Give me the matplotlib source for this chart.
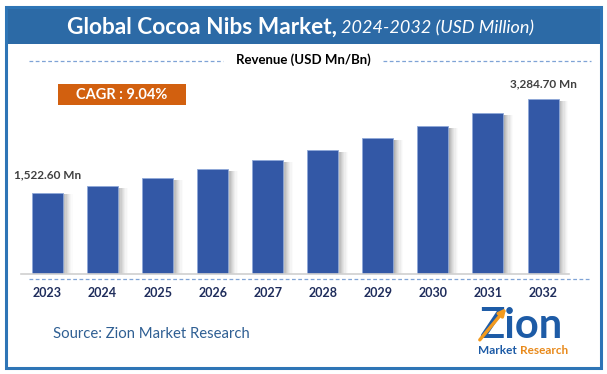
import numpy as np
import matplotlib.pyplot as plt
from matplotlib.patches import Rectangle

plt.rcParams['font.family'] = ['Lato', 'DejaVu Sans']

# chart data
years = ['2023', '2024', '2025', '2026', '2027', '2028', '2029', '2030', '2031', '2032']
revenue = [1522.60, 1646, 1795, 1963, 2132, 2319, 2543, 2773, 3016, 3284.70]
first_label = '1,522.60 Mn'
last_label = '3,284.70 Mn'
cagr_text = 'CAGR : 9.04%'

W, H = 607, 374
fig = plt.figure(figsize=(W / 100, H / 100), dpi=100)
fig.patch.set_facecolor('white')

# overlay in pixel coords (y down) for the frame, title and footer
ov = fig.add_axes([0, 0, 1, 1], zorder=0)
ov.set_xlim(0, W)
ov.set_ylim(H, 0)
ov.axis('off')

blue = '#2C6AA6'
ov.add_patch(Rectangle((6, 7), 595, 37, color=blue, lw=0))
ov.add_patch(Rectangle((6, 7), 595, 361, fill=False, ec='#2E75B6', lw=2.2))

ov.text(337, 27, 'Global Cocoa Nibs Market,', color='white', fontsize=16.3,
        fontweight='bold', ha='right', va='center')
ov.text(341, 28, '2024-2032 (USD Million)', color='white', fontsize=13,
        fontstyle='italic', ha='left', va='center')

ov.text(303, 60, 'Revenue (USD Mn/Bn)', color='black', fontsize=9.5,
        fontweight='bold', ha='center', va='center')
dash = '#7FA3D6'
ov.plot([29, 223], [61, 61], ls=(0, (3, 2)), color=dash, lw=0.9)
ov.plot([383, 591], [61, 61], ls=(0, (3, 2)), color=dash, lw=0.9)
ov.plot([29, 590], [279, 279], ls=(0, (3, 2)), color=dash, lw=0.9)

ov.add_patch(Rectangle((58, 84), 128, 21, color='#D2600F', lw=0))
ov.text(122, 95, cagr_text, color='white', fontsize=10.5, fontweight='bold',
        ha='center', va='center')

ov.text(53, 334, 'Source: Zion Market Research', color='#2F5F93', fontsize=10.7,
        ha='left', va='center')

# logo
ov.text(521, 326, 'Zion', color='#1D5BA6', fontsize=30, fontweight='bold',
        ha='center', va='center')
ov.annotate('', xy=(508, 306), xytext=(478, 342),
            arrowprops=dict(arrowstyle='-|>', color='#F39A1E', lw=2.4))
ov.text(517, 351, 'Market', color='#1D5BA6', fontsize=8.5, fontweight='bold',
        ha='right', va='center')
ov.text(520, 351, 'Research', color='#E8891A', fontsize=8.5, fontweight='bold',
        ha='left', va='center')

# bar chart
ax = fig.add_axes([21 / W, 1 - 274.3 / H, 548 / W, 194.3 / H], zorder=1)
ax.patch.set_alpha(0)
x = np.arange(len(years))
vals = np.array(revenue)
bw = 0.563

# soft shadow on the right of each bar
steps = 8
d = 0.022
for j in range(steps):
    ax.bar(x + bw / 2 + (j + 0.5) * d, vals * 0.985, width=d, color='#555555',
           alpha=0.45 * (1 - j / steps) ** 1.5, lw=0, zorder=1)

ax.bar(x, vals, width=bw, color='#3358A6', ec='#8FA8D8', lw=0.6, zorder=2)

ax.set_xlim(-0.481, 9.472)
ax.set_ylim(0, 3633)
for s in ['top', 'right', 'left']:
    ax.spines[s].set_visible(False)
ax.spines['bottom'].set_color('#D0D0D0')
ax.spines['bottom'].set_linewidth(1.2)
ax.set_yticks([])
ax.set_xticks(x)
ax.set_xticklabels(years, fontsize=9, fontweight='bold', color='#1F2D5C')
ax.tick_params(axis='x', length=0, pad=9)

ax.annotate(first_label, (x[0], vals[0]), xytext=(0, 13), textcoords='offset points',
            ha='center', va='center', fontsize=8.5, fontweight='bold', color='#404040')
ax.annotate(last_label, (x[-1], vals[-1]), xytext=(0, 11), textcoords='offset points',
            ha='center', va='center', fontsize=8.5, fontweight='bold', color='#404040')

fig.savefig('out.png', dpi=100)
